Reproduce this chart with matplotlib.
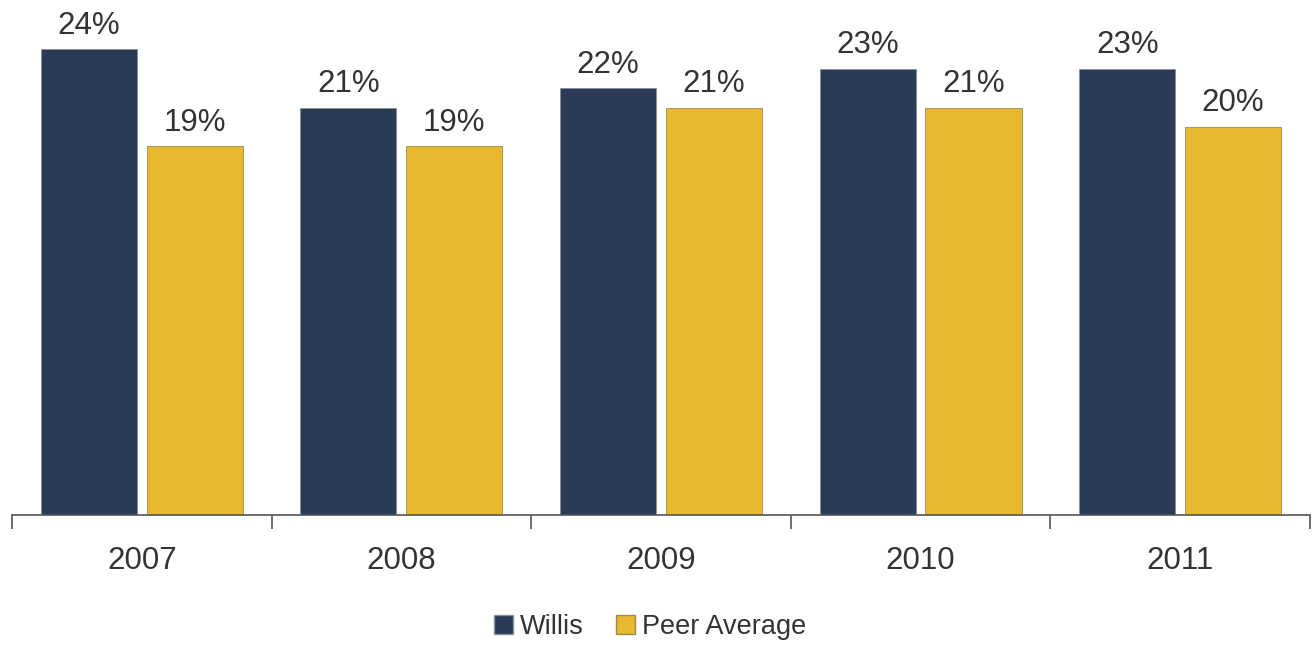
import matplotlib.pyplot as plt
import numpy as np
from matplotlib.patches import Patch

years = ["2007", "2008", "2009", "2010", "2011"]
willis = [24, 21, 22, 23, 23]
peer_avg = [19, 19, 21, 21, 20]

navy = "#2B3A57"
gold = "#E8B830"
text_col = "#333333"

plt.rcParams["font.family"] = ["Liberation Sans", "DejaVu Sans"]

fig = plt.figure(figsize=(13.16, 6.46), dpi=100)
ax = fig.add_axes([0.0091, 0.2028, 0.9863, 0.7972])

x = np.arange(len(years))
w = 0.37
off = 0.204
b1 = ax.bar(x - off, willis, w, color=navy, edgecolor="#8a8f99", linewidth=0.6)
b2 = ax.bar(x + off, peer_avg, w, color=gold, edgecolor="#9a8a5a", linewidth=0.6)

for bars, vals in ((b1, willis), (b2, peer_avg)):
    for bar, v in zip(bars, vals):
        ax.text(bar.get_x() + bar.get_width() / 2, v + 0.45, f"{v}%",
                ha="center", va="bottom", fontsize=22.5, color=text_col)

ax.set_xlim(-0.5, len(years) - 0.5)
ax.set_ylim(0, 26.55)

# tick marks at category boundaries, labels centred
ax.set_xticks(np.arange(-0.5, len(years), 1.0))
ax.set_xticklabels([])
ax.set_xticks(x, minor=True)
ax.set_xticklabels(years, minor=True, fontsize=22.5, color=text_col)
ax.tick_params(axis="x", which="major", length=10, width=1.2, color="#555555", direction="out")
ax.tick_params(axis="x", which="minor", length=0, pad=22)
ax.set_yticks([])

for s in ("top", "right", "left"):
    ax.spines[s].set_visible(False)
ax.spines["bottom"].set_color("#555555")
ax.spines["bottom"].set_linewidth(1.2)

handles = [Patch(facecolor=navy, edgecolor="#8a8f99", label="Willis"),
           Patch(facecolor=gold, edgecolor="#9a8a5a", label="Peer Average")]
fig.legend(handles=handles, loc="center", bbox_to_anchor=(0.494, 0.03), ncol=2,
           frameon=False, fontsize=19.5, handlelength=0.7, handleheight=0.7,
           handletextpad=0.25, columnspacing=1.2, labelcolor=text_col)

fig.savefig("out.png", dpi=100)
plt.close(fig)
